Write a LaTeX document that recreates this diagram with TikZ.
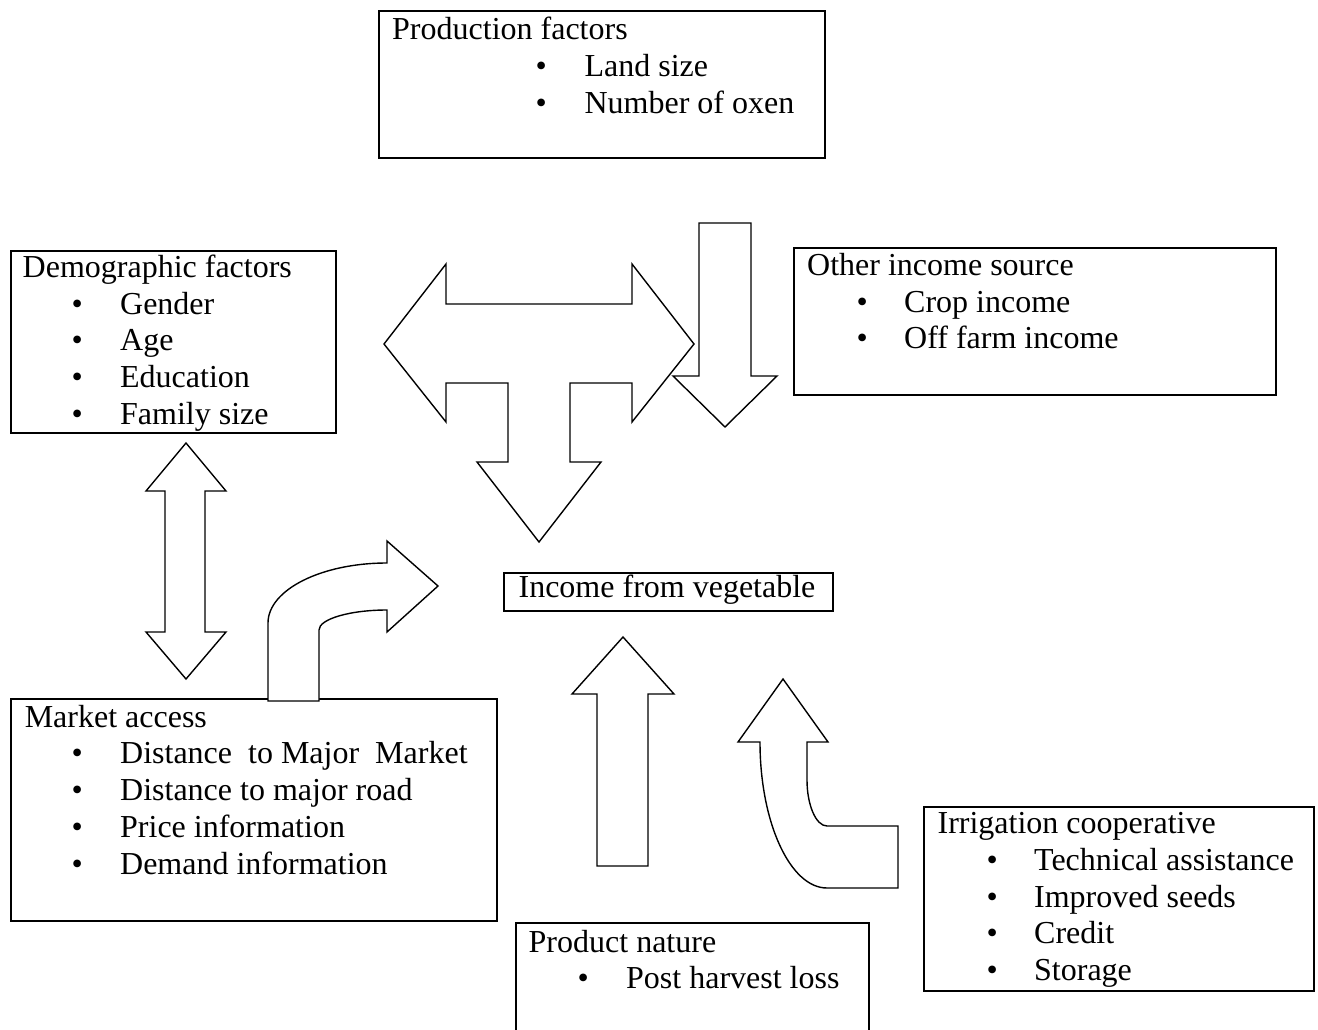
\documentclass[tikz,border=0pt]{standalone}
\usepackage{fontspec}
\setmainfont{Liberation Serif}
\begin{document}
\begin{tikzpicture}[x=1pt,y=-1pt,
  box/.style={draw, line width=1.9pt, rectangle, anchor=north west, inner sep=0pt},
  blk/.style={draw, line width=1.4pt, fill=white, line join=miter},
  txt/.style={anchor=base west, inner sep=0pt, font=\fontsize{32}{38}\selectfont}]
\useasboundingbox (0,0) rectangle (1318,1030);

% ---------- boxes ----------
\node[box, minimum width=446pt, minimum height=147pt] (pfbox) at (378,10) {};
\node[box, minimum width=325pt, minimum height=182pt] (dfbox) at (10,250) {};
\node[box, minimum width=482pt, minimum height=147pt] (oibox) at (793,247) {};
\node[box, minimum width=486pt, minimum height=222pt] (mabox) at (10,698) {};
\node[box, minimum width=353pt, minimum height=140pt] (pnbox) at (515,922) {};
\node[box, minimum width=390pt, minimum height=184pt] (icbox) at (923,806) {};
\node[box, minimum width=329pt, minimum height=38pt] (incbox) at (503,572) {};

% ---------- texts ----------
\node[txt] (pf0) at (392,39.8) {Production factors};
\node[txt] (pf1) at (535.4,76.5) {\makebox[49pt][l]{\textbullet}Land size};
\node[txt] (pf2) at (535.4,113.2) {\makebox[49pt][l]{\textbullet}Number of oxen};

\node[txt] (df0) at (22.5,277.5) {Demographic factors};
\node[txt] (df1) at (71.4,314.2) {\makebox[48.6pt][l]{\textbullet}Gender};
\node[txt] (df2) at (71.4,350.9) {\makebox[48.6pt][l]{\textbullet}Age};
\node[txt] (df3) at (71.4,387.6) {\makebox[48.6pt][l]{\textbullet}Education};
\node[txt] (df4) at (71.4,424.3) {\makebox[48.6pt][l]{\textbullet}Family size};

\node[txt] (oi0) at (807,275.5) {Other income source};
\node[txt] (oi1) at (856.4,312.2) {\makebox[47.6pt][l]{\textbullet}Crop income};
\node[txt] (oi2) at (856.4,348.9) {\makebox[47.6pt][l]{\textbullet}Off farm income};

\node[txt] (ma0) at (24.6,727.2) {Market access};
\node[txt] (ma1) at (71.4,763.9) {\makebox[48.6pt][l]{\textbullet}Distance\ \ to Major\ \ Market};
\node[txt] (ma2) at (71.4,800.6) {\makebox[48.6pt][l]{\textbullet}Distance to major road};
\node[txt] (ma3) at (71.4,837.3) {\makebox[48.6pt][l]{\textbullet}Price information};
\node[txt] (ma4) at (71.4,874) {\makebox[48.6pt][l]{\textbullet}Demand information};

\node[txt] (pn0) at (528.5,952.2) {Product nature};
\node[txt] (pn1) at (577.4,988.9) {\makebox[48.6pt][l]{\textbullet}Post harvest loss};

\node[txt] (ic0) at (937.4,833.8) {Irrigation cooperative};
\node[txt] (ic1) at (986.4,870.5) {\makebox[47.6pt][l]{\textbullet}Technical assistance};
\node[txt] (ic2) at (986.4,907.2) {\makebox[47.6pt][l]{\textbullet}Improved seeds};
\node[txt] (ic3) at (986.4,943.9) {\makebox[47.6pt][l]{\textbullet}Credit};
\node[txt] (ic4) at (986.4,980.6) {\makebox[47.6pt][l]{\textbullet}Storage};

\node[txt, anchor=base] (inc) at (667,597) {Income from vegetable};

% ---------- block arrows ----------
% left-right-down arrow
\draw[blk] (384,344) -- (446,264) -- (446,304) -- (632,304) -- (632,264) -- (694,344)
  -- (632,422) -- (632,383) -- (570,383) -- (570,462) -- (601,462) -- (539,542)
  -- (477,462) -- (508,462) -- (508,383) -- (446,383) -- (446,422) -- cycle;
% down arrow from production factors
\draw[blk] (699,223) -- (751,223) -- (751,376) -- (777,376) -- (725,427) -- (673,376)
  -- (699,376) -- cycle;
% up-down arrow demographic <-> market
\draw[blk] (186,443) -- (226,491) -- (205,491) -- (205,632) -- (226,632) -- (186,679)
  -- (146,632) -- (165,632) -- (165,491) -- (146,491) -- cycle;
% bent arrow from market access
\draw[blk] (268,701) -- (268,623) .. controls (268,590) and (321,563) .. (387,563)
  -- (387,541) -- (438,586) -- (387,632) -- (387,610)
  .. controls (350,610) and (319,619) .. (319,630) -- (319,701) -- cycle;
% up arrow from product nature
\draw[blk] (623,637) -- (674,694) -- (648,694) -- (648,866) -- (597,866) -- (597,694)
  -- (572,694) -- cycle;
% bent arrow from irrigation cooperative
\draw[blk] (783,679) -- (828,742) -- (807,742) -- (807,780)
  .. controls (807,805) and (816,826) .. (827,826) -- (898,826) -- (898,888) -- (827,888)
  .. controls (790,888) and (760,822) .. (760,742) -- (738,742) -- cycle;
\end{tikzpicture}
\end{document}
